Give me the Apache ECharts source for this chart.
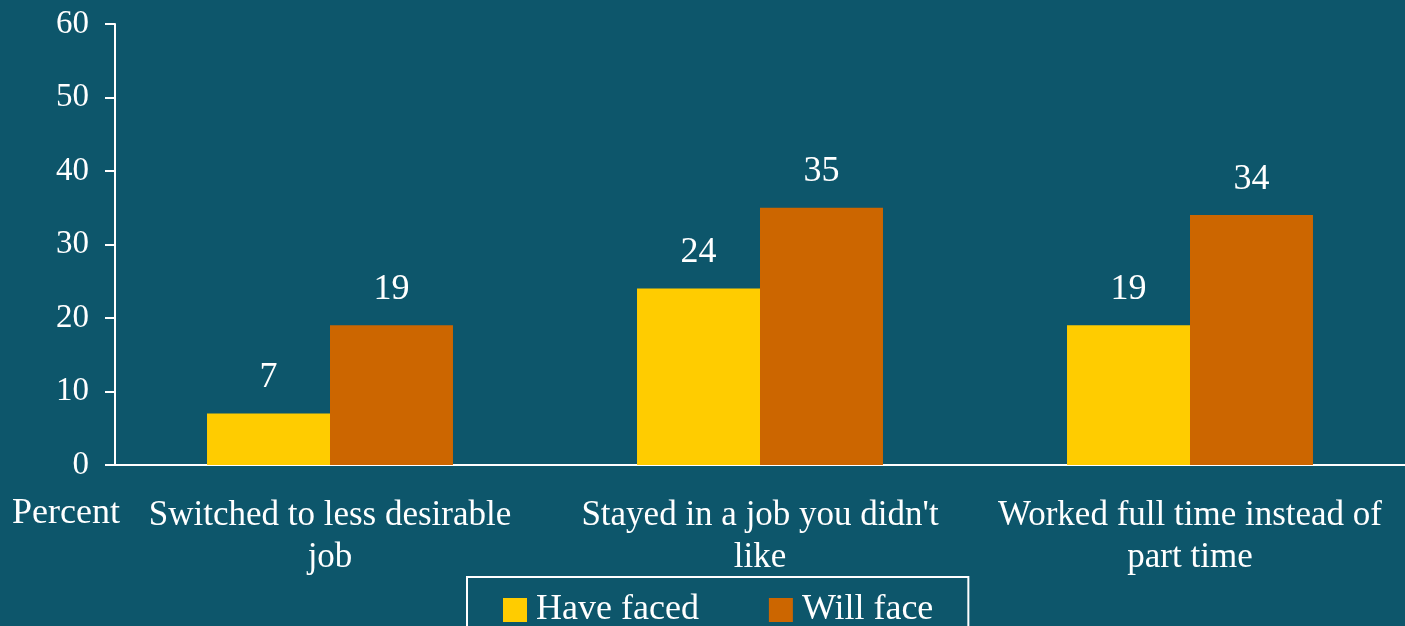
<!DOCTYPE html>
<html>
<head>
<meta charset="utf-8">
<script src="https://cdn.jsdelivr.net/npm/echarts@6/dist/echarts.min.js"></script>
<style>
  html, body { margin: 0; padding: 0; background: #0d566b; }
  #chart { width: 1405px; height: 626px; }
</style>
</head>
<body>
<div id="chart"></div>
<script>
const categories = [
  'Switched to less desirable\njob',
  "Stayed in a job you didn't\nlike",
  'Worked full time instead of\npart time'
]
const haveFaced = [7, 24, 19]
const willFace = [19, 35, 34]
const yTicks = [0, 10, 20, 30, 40, 50, 60]

const font = 'Liberation Serif'
const white = '#ffffff'

const chart = echarts.init(document.getElementById('chart'))

chart.setOption({
  backgroundColor: '#0d566b',
  animation: false,
  textStyle: { fontFamily: font, color: white },
  grid: { left: 115, right: 0, top: 24, bottom: 161 },
  graphic: [{
    type: 'text',
    left: 12,
    top: 496,
    style: { text: 'Percent', fill: white, font: '36px "Liberation Serif"' }
  }],
  legend: {
    left: 467,
    top: 577,
    padding: [15, 35, 20, 36],
    borderColor: white,
    borderWidth: 2,
    icon: 'rect',
    itemWidth: 24,
    itemHeight: 24,
    itemGap: 70,
    textStyle: { color: white, fontSize: 36, fontFamily: font, padding: [0, 0, 0, 4] },
    data: ['Have faced', 'Will face']
  },
  xAxis: {
    type: 'category',
    data: categories,
    axisLine: { lineStyle: { color: white, width: 2 } },
    axisTick: { show: false },
    axisLabel: {
      color: white,
      fontSize: 35,
      fontFamily: font,
      lineHeight: 42,
      margin: 30,
      interval: 0
    }
  },
  yAxis: {
    type: 'value',
    min: yTicks[0],
    max: yTicks[yTicks.length - 1],
    interval: 10,
    axisLine: { show: true, lineStyle: { color: white, width: 2 } },
    axisTick: { show: true, length: 10, lineStyle: { color: white, width: 2 } },
    splitLine: { show: false },
    axisLabel: { color: white, fontSize: 33, fontFamily: font, margin: 26 }
  },
  series: [
    {
      name: 'Have faced',
      type: 'bar',
      data: haveFaced,
      barWidth: '28.6%',
      barGap: '0%',
      itemStyle: { color: '#ffcc00' },
      label: { show: true, position: 'top', distance: 18, color: white, fontSize: 36, fontFamily: font }
    },
    {
      name: 'Will face',
      type: 'bar',
      data: willFace,
      barWidth: '28.6%',
      itemStyle: { color: '#cc6600' },
      label: { show: true, position: 'top', distance: 18, color: white, fontSize: 36, fontFamily: font }
    }
  ]
})
</script>
</body>
</html>
